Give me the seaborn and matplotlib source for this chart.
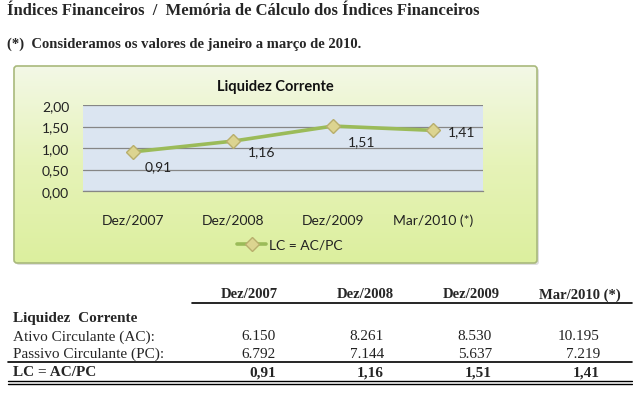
import matplotlib
matplotlib.use('Agg')
import matplotlib.pyplot as plt
import seaborn as sns
import numpy as np
import pandas as pd
from matplotlib.patches import FancyBboxPatch
from matplotlib.lines import Line2D

# data
periods = ['Dez/2007', 'Dez/2008', 'Dez/2009', 'Mar/2010 (*)']
ativo = [6150, 8261, 8530, 10195]
passivo = [6792, 7144, 5637, 7219]
lc = [0.91, 1.16, 1.51, 1.41]
label_offsets = [(25, -14), (29, -10), (29, -15), (29, -1)]  # pixels
y_ticks = [0.0, 0.5, 1.0, 1.5, 2.0]

W, H = 633, 406
LINE_GREEN = '#9bbb59'
MARKER_FACE = '#dcd490'
MARKER_EDGE = '#b8ae6c'


def fx(px):
    return px / W


def fy(py):
    return 1 - py / H


def br(v):
    # brazilian number formats
    return f'{v:,}'.replace(',', '.')


sns.set_theme(style='white')
plt.rcParams['font.family'] = ['DejaVu Sans']

fig = plt.figure(figsize=(W / 100, H / 100), dpi=100)
fig.patch.set_facecolor('white')

serif = 'Liberation Serif'
sans = 'Lato'

# header lines
fig.text(fx(7), fy(11), 'Índices Financeiros  /  Memória de Cálculo dos Índices Financeiros',
         family=serif, fontweight='bold', fontsize=12, va='center', ha='left')
fig.text(fx(7), fy(44), '(*)  Consideramos os valores de janeiro a março de 2010.',
         family=serif, fontweight='bold', fontsize=10.5, va='center', ha='left')

# chart box with gradient
bx0, by0, bx1, by1 = 14, 67, 537, 264
bg = fig.add_axes([fx(bx0 - 2), fy(by1 + 4), fx(bx1 - bx0 + 8), (by1 - by0 + 6) / H])
bg.set_xlim(bx0 - 2, bx1 + 6)
bg.set_ylim(by1 + 4, by0 - 2)
bg.axis('off')
shadow = FancyBboxPatch((bx0 + 2, by0 + 2), bx1 - bx0, by1 - by0,
                        boxstyle='round,pad=0,rounding_size=3',
                        facecolor='#c8c8c8', edgecolor='none', alpha=0.6)
bg.add_patch(shadow)
grad = np.linspace(0, 1, 256).reshape(-1, 1)
cmap = matplotlib.colors.LinearSegmentedColormap.from_list('g', ['#f3f8e6', '#e6f3b8', '#dcef9e'])
im = bg.imshow(grad, cmap=cmap, aspect='auto', extent=(bx0, bx1, by1, by0), zorder=2)
box = FancyBboxPatch((bx0, by0), bx1 - bx0, by1 - by0,
                     boxstyle='round,pad=0,rounding_size=3',
                     facecolor='none', edgecolor='#a9b97c', linewidth=1.2, zorder=3)
bg.add_patch(box)
im.set_clip_path(box)

# plot area
ax = fig.add_axes([fx(83), fy(192), fx(400), 86 / H])
ax.set_facecolor('#dbe5f1')
df = pd.DataFrame({'periodo': periods, 'lc': lc})
sns.lineplot(data=df, x='periodo', y='lc', ax=ax, color=LINE_GREEN, linewidth=2.6,
             marker='D', markersize=7, markerfacecolor=MARKER_FACE,
             markeredgecolor=MARKER_EDGE, markeredgewidth=1, sort=False,
             label='LC = AC/PC', legend=False, zorder=5)
ax.set_xlim(-0.5, len(periods) - 0.5)
ax.set_ylim(0, 2)
ax.set_yticks(y_ticks)
ax.set_yticklabels([f'{t:.2f}'.replace('.', ',') for t in y_ticks], family=sans, fontsize=10, color='#222222')
ax.set_xticks(range(len(periods)))
ax.set_xticklabels(periods, family=sans, fontsize=10, color='#222222')
ax.tick_params(axis='y', length=0, pad=10)
ax.tick_params(axis='x', length=0, pad=16)
ax.set_xlabel('')
ax.set_ylabel('')
ax.grid(axis='y', color='#868686', linewidth=0.9)
ax.set_axisbelow(True)
for s in ['top', 'right', 'left']:
    ax.spines[s].set_visible(False)
ax.spines['bottom'].set_color('#868686')
ax.spines['bottom'].set_linewidth(0.9)

for i, (v, off) in enumerate(zip(lc, label_offsets)):
    ax.annotate(f'{v:.2f}'.replace('.', ','), (i, v), xytext=off, textcoords='offset pixels',
                ha='center', va='center', family=sans, fontsize=10, color='#222222')

fig.text(fx(275), fy(87), 'Liquidez Corrente', family=sans, fontweight='bold',
         fontsize=10.5, ha='center', va='center', color='#111111')

handle = Line2D([], [], color=LINE_GREEN, linewidth=2.6, marker='D', markersize=7,
                markerfacecolor=MARKER_FACE, markeredgecolor=MARKER_EDGE)
fig.legend([handle], ['LC = AC/PC'], loc='center', bbox_to_anchor=(fx(290), fy(246)),
           frameon=False, prop={'family': sans, 'size': 10}, handlelength=2.1,
           handletextpad=0.2, labelcolor='#222222')

# table
col_right = [276, 384, 492, 600]
col_head = [249, 365, 471, 580]
for cx, p in zip(col_head, periods):
    fig.text(fx(cx), fy(295), p, family=serif, fontweight='bold', fontsize=10.5,
             ha='center', va='center')
fig.add_artist(Line2D([fx(192), fx(632)], [fy(304), fy(304)], color='black', linewidth=1.2))

fig.text(fx(13), fy(319), 'Liquidez  Corrente', family=serif, fontweight='bold',
         fontsize=11, ha='left', va='center')
fig.text(fx(13), fy(337), 'Ativo Circulante (AC):', family=serif, fontsize=11,
         ha='left', va='center')
fig.text(fx(13), fy(354), 'Passivo Circulante (PC):', family=serif, fontsize=11,
         ha='left', va='center')
fig.text(fx(13), fy(373), 'LC = AC/PC', family=serif, fontweight='bold', fontsize=11,
         ha='left', va='center')

for cx, a, p, v in zip(col_right, ativo, passivo, lc):
    fig.text(fx(cx), fy(337), br(a), family=serif, fontsize=11, ha='right', va='center', color='#222222')
    fig.text(fx(cx), fy(354), br(p), family=serif, fontsize=11, ha='right', va='center', color='#222222')
    fig.text(fx(cx), fy(373), f'{v:.2f}'.replace('.', ','), family=serif, fontweight='bold',
             fontsize=11, ha='right', va='center')

fig.add_artist(Line2D([fx(8), fx(632)], [fy(363), fy(363)], color='black', linewidth=1.2))
fig.add_artist(Line2D([fx(8), fx(632)], [fy(382), fy(382)], color='black', linewidth=1.0))
fig.add_artist(Line2D([fx(8), fx(632)], [fy(385), fy(385)], color='black', linewidth=1.0))

fig.savefig('out.png', dpi=100)
